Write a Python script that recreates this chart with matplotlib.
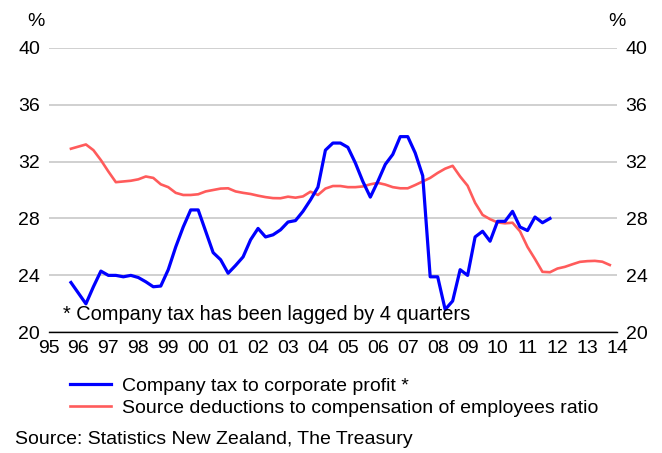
import numpy as np
import matplotlib.pyplot as plt

plt.rcParams['font.family'] = ['Liberation Sans', 'DejaVu Sans']

# quarterly data, first quarter plotted at 1995.75
blue_start = 1995.75
company_tax = [23.5, 22.75, 22.0, 23.2, 24.3, 24.0, 24.0, 23.9, 24.0, 23.85,
               23.55, 23.2, 23.25, 24.4, 26.0, 27.4, 28.6, 28.6, 27.1, 25.6,
               25.1, 24.15, 24.7, 25.3, 26.5, 27.3, 26.7, 26.85, 27.2, 27.75,
               27.85, 28.5, 29.3, 30.2, 32.8, 33.3, 33.3, 33.0, 31.9, 30.6,
               29.5, 30.6, 31.8, 32.5, 33.75, 33.75, 32.6, 31.0, 23.9, 23.9,
               21.6, 22.2, 24.4, 24.0, 26.7, 27.1, 26.4, 27.8, 27.8, 28.5,
               27.4, 27.15, 28.1, 27.7, 28.0]

red_start = 1995.75
source_ded = [32.9, 33.05, 33.2, 32.8, 32.1, 31.3, 30.55, 30.6, 30.65, 30.75,
              30.95, 30.85, 30.4, 30.2, 29.8, 29.65, 29.65, 29.7, 29.9, 30.0,
              30.1, 30.12, 29.9, 29.8, 29.72, 29.6, 29.5, 29.43, 29.42, 29.53,
              29.46, 29.55, 29.88, 29.65, 30.1, 30.28, 30.28, 30.2, 30.2, 30.25,
              30.4, 30.5, 30.38, 30.2, 30.12, 30.12, 30.35, 30.6, 30.85, 31.2,
              31.5, 31.7, 30.95, 30.3, 29.1, 28.25, 27.95, 27.72, 27.66, 27.7,
              27.1, 26.0, 25.15, 24.25, 24.22, 24.48, 24.6, 24.78, 24.95, 25.0,
              25.02, 24.96, 24.73]

years = list(range(1995, 2015))
year_labels = ['%02d' % (y % 100) for y in years]
yticks = [20, 24, 28, 32, 36, 40]

x_blue = blue_start + 0.25 * np.arange(len(company_tax))
x_red = red_start + 0.25 * np.arange(len(source_ded))

fig = plt.figure(figsize=(6.62, 4.53), dpi=100)
ax = fig.add_axes([48.5 / 662, 1 - 332.3 / 453, 568.8 / 662, 284.6 / 453])

ax.plot(x_red, source_ded, color='#FF5B5B', lw=1.9,
        label='Source deductions to compensation of employees ratio')
ax.plot(x_blue, company_tax, color='#0000FF', lw=2.3,
        label='Company tax to corporate profit *')

ax.set_xlim(1995, 2014)
ax.set_ylim(20, 40)
ax.set_xticks(years)
ax.set_xticklabels(year_labels)
ax.set_yticks(yticks)
ax.yaxis.grid(True, color='#C8C8C8', lw=1.2)
ax.set_axisbelow(True)
for s in ['left', 'right', 'top']:
    ax.spines[s].set_visible(False)
ax.spines['bottom'].set_color('black')
ax.spines['bottom'].set_linewidth(1.0)
ax.tick_params(axis='x', length=0, pad=5.5, labelsize=14)
ax.tick_params(axis='y', length=0, pad=6, labelsize=14,
               labelleft=True, labelright=True)

fig.text(35.5 / 662, 1 - 22 / 453, '%', fontsize=14, ha='center', va='center')
fig.text(617 / 662, 1 - 22 / 453, '%', fontsize=14, ha='center', va='center')

ax.text(0.0255, 0.061, '* Company tax has been lagged by 4 quarters',
        transform=ax.transAxes, fontsize=14.4, ha='left', va='center')

h, l = ax.get_legend_handles_labels()
fig.legend(h[::-1], l[::-1], loc='upper left', bbox_to_anchor=(70 / 662, 1 - 377 / 453),
           frameon=False, fontsize=14, handlelength=2.1, handletextpad=0.55,
           labelspacing=0.25, borderpad=0, borderaxespad=0)

fig.text(15 / 662, 1 - 439 / 453, 'Source: Statistics New Zealand, The Treasury',
         fontsize=14, ha='left', va='center')

fig.savefig('out.png', dpi=100)
